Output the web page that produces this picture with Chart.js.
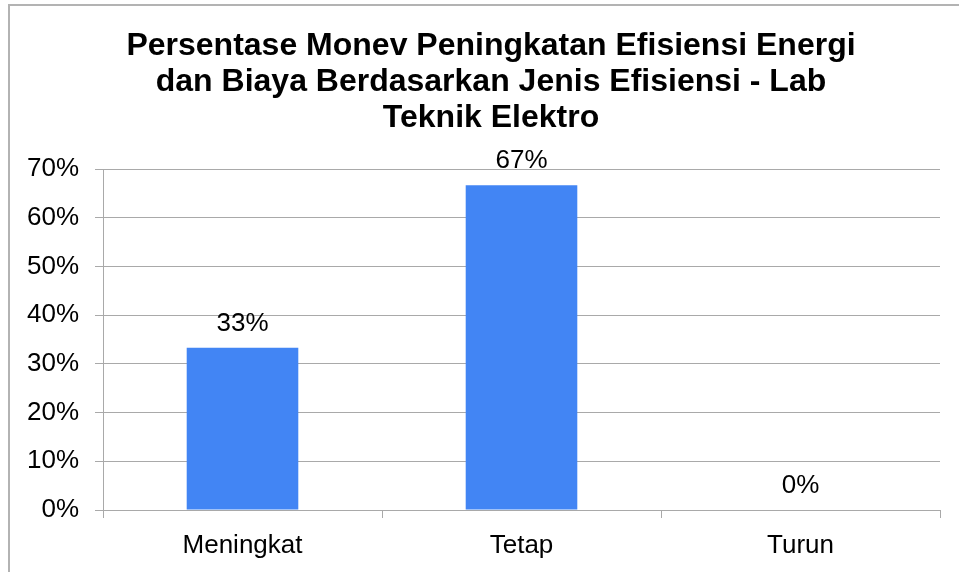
<!DOCTYPE html>
<html>
<head>
<meta charset="utf-8">
<script src="https://cdn.jsdelivr.net/npm/chart.js@4.4.0/dist/chart.umd.min.js"></script>
<style>
  html, body { margin: 0; padding: 0; background: #fff; }
  #wrap { position: relative; width: 959px; height: 572px; }
  #frame { position: absolute; left: 8px; top: 4px; right: -4px; bottom: -4px;
           border-left: 2px solid #b3b3b3; border-top: 2px solid #b3b3b3; pointer-events: none; }
</style>
</head>
<body>
<div id="wrap">
  <canvas id="chart" width="959" height="572"></canvas>
  <div id="frame"></div>
</div>
<script>
  // data
  const categories = ["Meningkat", "Tetap", "Turun"];
  const percentValues = [33.33, 66.67, 0];
  const yTicks = { min: 0, max: 70, step: 10 };
  const titleLines = [
    "Persentase Monev Peningkatan Efisiensi Energi",
    "dan Biaya Berdasarkan Jenis Efisiensi - Lab",
    "Teknik Elektro"
  ];

  const FONT = "'Liberation Sans', Arial, sans-serif";
  const GRID = '#a9a9a9';

  // title drawn by hand so it can sit off-centre like the original
  const titlePlugin = {
    id: 'manualTitle',
    afterDraw(chart){
      const ctx = chart.ctx;
      ctx.save();
      ctx.font = 'bold 32px ' + FONT;
      ctx.fillStyle = '#000';
      ctx.textAlign = 'center';
      ctx.textBaseline = 'alphabetic';
      titleLines.forEach((t, i) => ctx.fillText(t, 491, 55 + i * 36));
      ctx.restore();
    }
  };

  // value labels above each bar
  const valueLabels = {
    id: 'valueLabels',
    afterDatasetsDraw(chart){
      const ctx = chart.ctx;
      ctx.save();
      ctx.font = '26px ' + FONT;
      ctx.fillStyle = '#000';
      ctx.textAlign = 'center';
      ctx.textBaseline = 'alphabetic';
      const meta = chart.getDatasetMeta(0);
      meta.data.forEach((bar, i) => {
        const v = chart.data.datasets[0].data[i];
        ctx.fillText(Math.round(v) + '%', bar.x, bar.y - 17);
      });
      ctx.restore();
    }
  };

  new Chart(document.getElementById('chart'), {
    type: 'bar',
    data: {
      labels: categories,
      datasets: [{
        data: percentValues,
        backgroundColor: '#4285f4',
        borderWidth: 0,
        barPercentage: 0.4,
        categoryPercentage: 1.0
      }]
    },
    options: {
      responsive: false,
      animation: false,
      layout: { padding: { top: 169, right: 19, bottom: 0, left: 0 } },
      plugins: {
        legend: { display: false },
        title: { display: false },
        tooltip: { enabled: false }
      },
      scales: {
        x: {
          offset: true,
          grid: { offset: true, drawOnChartArea: false, drawTicks: true, tickLength: 8, color: GRID },
          border: { display: true, color: GRID, width: 1 },
          ticks: { color: '#000', font: { family: FONT, size: 26 }, padding: 12, maxRotation: 0 },
          afterFit(scale){ scale.height = 62; }
        },
        y: {
          min: yTicks.min,
          max: yTicks.max,
          ticks: {
            stepSize: yTicks.step,
            color: '#000',
            font: { family: FONT, size: 26 },
            padding: 16,
            callback: v => v + '%'
          },
          grid: { color: GRID, tickLength: 8, drawTicks: true },
          border: { display: true, color: GRID, width: 1 },
          afterFit(scale){ scale.width = 103; }
        }
      }
    },
    plugins: [titlePlugin, valueLabels]
  });
</script>
</body>
</html>
